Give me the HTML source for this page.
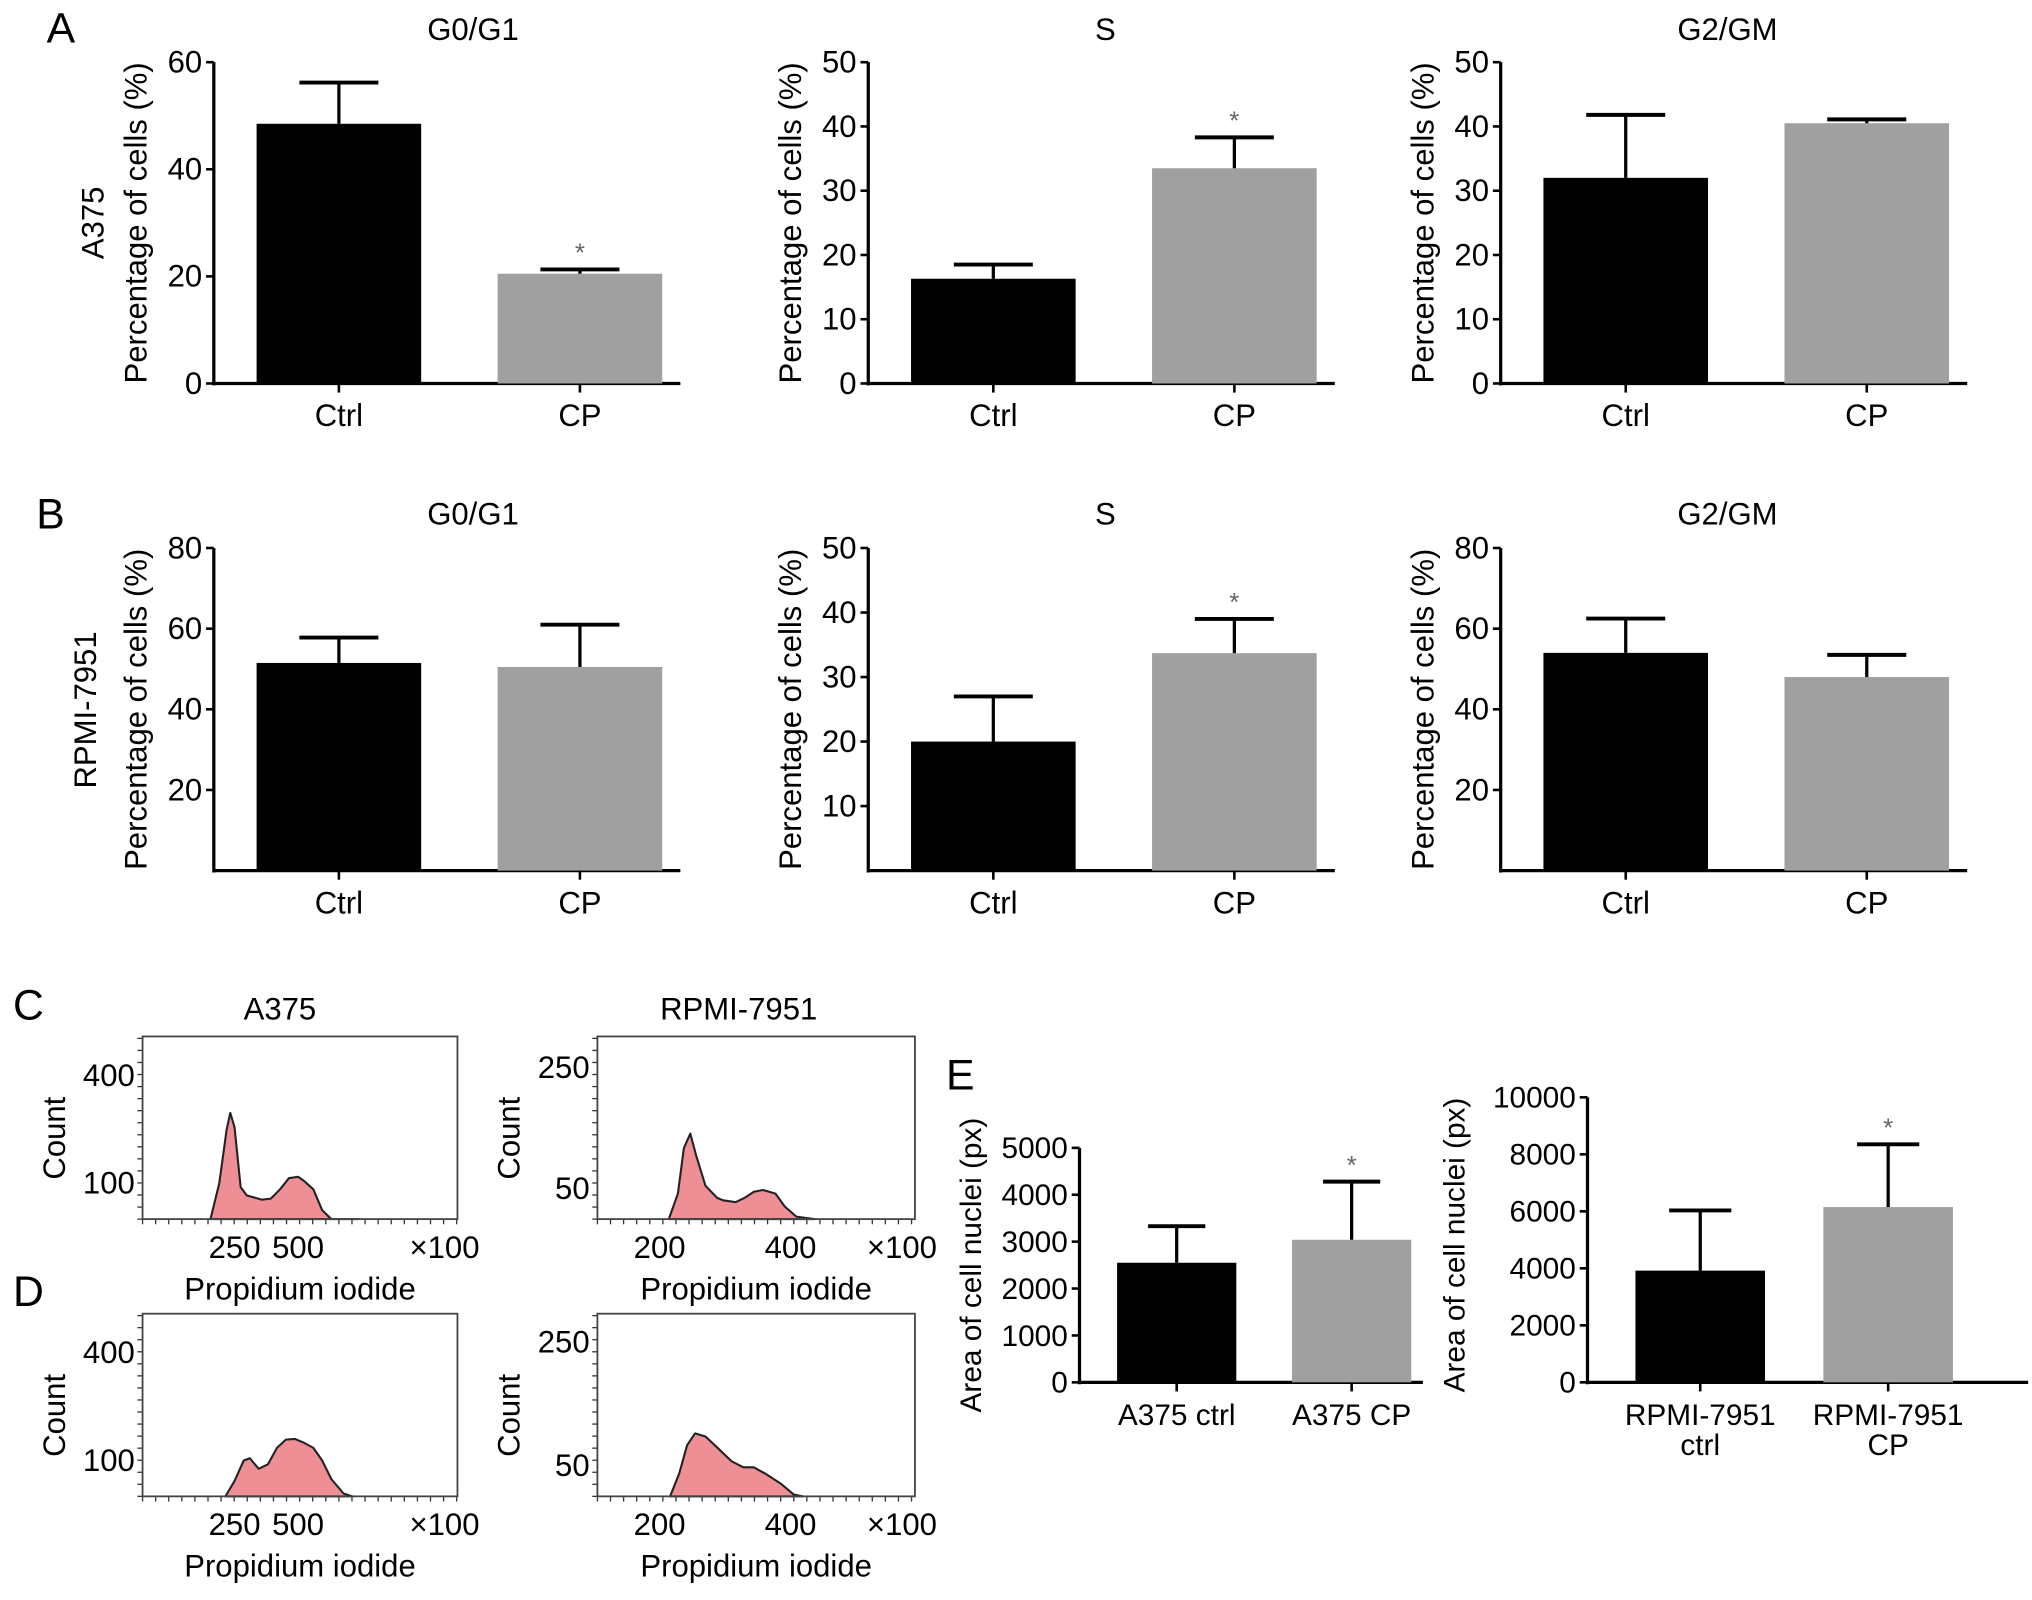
<!DOCTYPE html>
<html><head><meta charset="utf-8"><style>
html,body{margin:0;padding:0;background:#fff;}
svg{display:block;font-family:"Liberation Sans",Arial,sans-serif;}
</style></head><body>
<svg id="fig" width="2032" height="1600" viewBox="0 0 1568 1235" preserveAspectRatio="none" xmlns="http://www.w3.org/2000/svg">
<g id="static" fill="#000">
<text x="36" y="33" font-size="33">A</text>
<text x="28" y="408" font-size="33">B</text>
<text x="10" y="787" font-size="33">C</text>
<text x="10" y="1008" font-size="33">D</text>
<text x="730" y="841" font-size="33">E</text>
<text font-size="24" text-anchor="middle" transform="translate(80,172) rotate(-90)">A375</text>
<text font-size="24" text-anchor="middle" transform="translate(74,548) rotate(-90)">RPMI-7951</text>
<text x="216" y="787" font-size="24" text-anchor="middle">A375</text>
<text x="570" y="787" font-size="24" text-anchor="middle">RPMI-7951</text>
</g>
<g id="charts"></g>
</svg>
<script>
// ---- Panel A data (A375) ----
const barCategories = ["Ctrl", "CP"];
const aG1Values = [48.5, 20.5];
const aG1Errors = [56.2, 21.3];
const aSValues = [16.3, 33.5];
const aSErrors = [18.5, 38.3];
const aG2Values = [32.0, 40.5];
const aG2Errors = [41.8, 41.1];
// ---- Panel B data (RPMI-7951) ----
const bG1Values = [51.5, 50.5];
const bG1Errors = [57.8, 61.0];
const bSValues = [20.0, 33.7];
const bSErrors = [27.0, 39.0];
const bG2Values = [54.0, 48.0];
const bG2Errors = [62.5, 53.5];
// ---- Panel E data ----
const eA375Categories = ["A375 ctrl", "A375 CP"];
const eA375Values = [2550, 3040];
const eA375Errors = [3330, 4280];
const eRpmiCategories = [["RPMI-7951","ctrl"], ["RPMI-7951","CP"]];
const eRpmiValues = [3920, 6150];
const eRpmiErrors = [6030, 8350];
// ---- Tick labels ----
const ticksA1 = [0, 20, 40, 60];
const ticksA50 = [0, 10, 20, 30, 40, 50];
const ticksB80 = [20, 40, 60, 80];
const ticksB50 = [10, 20, 30, 40, 50];
const ticksE1 = [0, 1000, 2000, 3000, 4000, 5000];
const ticksE2 = [0, 2000, 4000, 6000, 8000, 10000];
// ---- Histogram data: x (x100 units), count ----
const cA375X = [155,190,219,233,250,274,298,357,393,429,464,500,524,560,595,631,738];
const cA375Y = [0,100,250,296,256,89,66,54,57,83,114,118,106,83,25,0,0];
const cRpmiX = [214,228,237,247,256,270,288,297,316,330,344,358,377,391,409,437];
const cRpmiY = [0,42,117,141,104,55,35,31,28,35,45,48,42,21,4,0];
const dA375X = [214,250,286,310,345,381,417,452,488,524,560,595,631,679,714];
const dA375Y = [0,43,100,106,77,89,135,158,160,149,135,100,48,8,0];
const dRpmiX = [216,230,242,254,270,290,310,328,344,363,386,405,419];
const dRpmiY = [0,37,83,102,97,77,57,47,47,36,20,3,0];
const a375XTicks = [250, 500];
const rpmiXTicks = [200, 400];
const a375YTicks = [100, 400];
const rpmiYTicks = [50, 250];

const NS = "http://www.w3.org/2000/svg";
const root = document.getElementById('charts');
function mk(tag, attrs, parent) {
  const e = document.createElementNS(NS, tag);
  for (const k in attrs) e.setAttribute(k, attrs[k]);
  (parent || root).appendChild(e);
  return e;
}

function barChart(o) {
  const g = mk('g', {});
  
  
  const y = v => o.bottom - (v / o.max) * (o.bottom - o.top);
  const ya = mk('line', {x1:o.ax, y1:o.top, x2:o.ax, y2:o.bottom+1.5, stroke:'#000','stroke-width':2.5}, g);
  
  
  const xa = mk('line', {x1:o.ax-1, y1:o.bottom, x2:o.ax+o.w, y2:o.bottom, stroke:'#000','stroke-width':2.5}, g);
  
  
  o.ticks.forEach(t => {
    mk('line', {x1:o.ax-6, y1:y(t), x2:o.ax, y2:y(t), stroke:'#000','stroke-width':2}, g);
    const tl = mk('text', {x:o.ax-9, y:y(t)+8, 'font-size':o.fs||24, 'text-anchor':'end'}, g);
    tl.textContent = t;
    
    
  });
  const yl = mk('text', {'font-size':o.fs||24, 'text-anchor':'middle', transform:`translate(${o.ax+o.ylOff},${(o.top+o.bottom)/2+o.ylDy}) rotate(-90)`}, g);
  yl.textContent = o.ylabel;
  
  
  if (o.title) {
    const tt = mk('text', {x:o.titleX, y:o.titleY, 'font-size':24, 'text-anchor':'middle'}, g);
    tt.textContent = o.title;
    
    
  }
  o.values.forEach((v, i) => {
    const x0 = o.ax + o.bx[i], bw = o.bw;
    const cx = x0 + bw/2;
    const r = mk('rect', {x:x0, y:y(v), width:bw, height:o.bottom-y(v), fill: i===0 ? '#000' : '#a0a0a0'}, g);
    
    
    const e = o.errors[i];
    const cw = bw*0.24;
    mk('line', {x1:cx, y1:y(v), x2:cx, y2:y(e), stroke:'#000','stroke-width':2.5}, g);
    const cap = mk('line', {x1:cx-cw, y1:y(e), x2:cx+cw, y2:y(e), stroke:'#000','stroke-width':3}, g);
    
    
    mk('line', {x1:cx, y1:o.bottom, x2:cx, y2:o.bottom+7, stroke:'#000','stroke-width':2}, g);
    const lab = o.cats[i];
    const lines = Array.isArray(lab) ? lab : [lab];
    lines.forEach((ln, k) => {
      const t = mk('text', {x:cx, y:o.bottom+33+k*23, 'font-size':o.fs||24, 'text-anchor':'middle'}, g);
      t.textContent = ln;
      
      
    });
    if (o.star && i===1) {
      const s = mk('text', {x:cx, y:y(e)-6, 'font-size':20, 'text-anchor':'middle', fill:'#666'}, g);
      s.textContent = '*';
      
      
    }
  });
}

const rowPanels = [
  {name:'a-g0g1', ax:165, top:48, bottom:296, max:60, ticks:ticksA1, values:aG1Values, errors:aG1Errors, title:'G0/G1', titleX:365, titleY:31, star:true},
  {name:'a-s', ax:670, top:48, bottom:296, max:50, ticks:ticksA50, values:aSValues, errors:aSErrors, title:'S', titleX:853, titleY:31, star:true},
  {name:'a-g2gm', ax:1158, top:48, bottom:296, max:50, ticks:ticksA50, values:aG2Values, errors:aG2Errors, title:'G2/GM', titleX:1333, titleY:31, star:false},
  {name:'b-g0g1', ax:165, top:423, bottom:672, max:80, ticks:ticksB80, values:bG1Values, errors:bG1Errors, title:'G0/G1', titleX:365, titleY:405, star:false},
  {name:'b-s', ax:670, top:423, bottom:672, max:50, ticks:ticksB50, values:bSValues, errors:bSErrors, title:'S', titleX:853, titleY:405, star:true},
  {name:'b-g2gm', ax:1158, top:423, bottom:672, max:80, ticks:ticksB80, values:bG2Values, errors:bG2Errors, title:'G2/GM', titleX:1333, titleY:405, star:false},
];
rowPanels.forEach(p => barChart(Object.assign({w:360, bx:[33,219], bw:127, cats:barCategories, ylabel:'Percentage of cells (%)', ylOff:-52, ylDy:0}, p)));

barChart({name:'e-a375-area', ax:833, top:886, bottom:1067, max:5000, ticks:ticksE1, values:eA375Values, errors:eA375Errors, w:265, bx:[29,164], bw:92, cats:eA375Categories, ylabel:'Area of cell nuclei (px)', ylOff:-76, ylDy:0, star:true, fs:23});
barChart({name:'e-rpmi-area', ax:1225, top:847, bottom:1067, max:10000, ticks:ticksE2, values:eRpmiValues, errors:eRpmiErrors, w:340, bx:[37,182], bw:100, cats:eRpmiCategories, ylabel:'Area of cell nuclei (px)', ylOff:-95, ylDy:4, star:true, fs:23});

function hist(o) {
  const g = mk('g', {});
  
  
  const sx = v => o.x0px + (v - o.x0v) * o.xs;
  const sy = c => o.bottom - c * o.ys;
  for (let yy = o.bottom; yy > o.top; yy -= 9.3) mk('line', {x1:o.left-4, y1:yy, x2:o.left, y2:yy, stroke:'#333','stroke-width':1}, g);
  for (let xx = o.left; xx < o.right; xx += 10.1) mk('line', {x1:xx, y1:o.bottom, x2:xx, y2:o.bottom+4, stroke:'#333','stroke-width':1}, g);
  let d = '';
  o.xs_.forEach((v, i) => { d += (i===0?'M':'L') + sx(v).toFixed(1) + ',' + sy(o.ys_[i]).toFixed(1) + ' '; });
  const area = mk('path', {d: d + 'Z', fill:'#ee8f95', stroke:'#222', 'stroke-width':1.6, 'stroke-linejoin':'round'}, g);
  
  
  const box = mk('rect', {x:o.left, y:o.top, width:o.right-o.left, height:o.bottom-o.top, fill:'none', stroke:'#444', 'stroke-width':1.4}, g);
  
  
  o.xt.forEach(t => {
    const l = mk('text', {x:sx(t), y:o.bottom+30, 'font-size':24, 'text-anchor':'middle'}, g);
    l.textContent = t;
    
    
  });
  o.yt.forEach(t => {
    const l = mk('text', {x:o.left-6, y:sy(t)+8, 'font-size':24, 'text-anchor':'end'}, g);
    l.textContent = t;
    
    
  });
  const m = mk('text', {x:o.right-10, y:o.bottom+30, 'font-size':24, 'text-anchor':'middle'}, g);
  m.textContent = '\u00d7100';
  
  
  const xl = mk('text', {x:(o.left+o.right)/2, y:o.bottom+62, 'font-size':24, 'text-anchor':'middle'}, g);
  xl.textContent = 'Propidium iodide';
  
  
  const yl = mk('text', {'font-size':24, 'text-anchor':'middle', transform:`translate(${o.left-60},${(o.top+o.bottom)/2+8}) rotate(-90)`}, g);
  yl.textContent = 'Count';
  
  
}
hist({name:'hist-c-a375', left:110, right:353, top:800, bottom:941, x0px:181, x0v:250, xs:0.196, ys:0.277, xs_:cA375X, ys_:cA375Y, xt:a375XTicks, yt:a375YTicks});
hist({name:'hist-c-rpmi', left:461, right:706, top:800, bottom:941, x0px:509, x0v:200, xs:0.505, ys:0.468, xs_:cRpmiX, ys_:cRpmiY, xt:rpmiXTicks, yt:rpmiYTicks});
hist({name:'hist-d-a375', left:110, right:353, top:1014, bottom:1155, x0px:181, x0v:250, xs:0.196, ys:0.277, xs_:dA375X, ys_:dA375Y, xt:a375XTicks, yt:a375YTicks});
hist({name:'hist-d-rpmi', left:461, right:706, top:1014, bottom:1155, x0px:509, x0v:200, xs:0.505, ys:0.476, xs_:dRpmiX, ys_:dRpmiY, xt:rpmiXTicks, yt:rpmiYTicks});
</script>
</body></html>
